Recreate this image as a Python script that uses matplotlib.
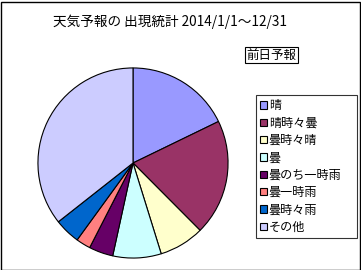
import matplotlib.pyplot as plt
from matplotlib.patches import Rectangle

plt.rcParams['font.family'] = ['Noto Sans CJK JP', 'DejaVu Sans']

# データ（日数）
labels = ['晴', '晴時々曇', '曇時々晴', '曇', '曇のち一時雨', '曇一時雨', '曇時々雨', 'その他']
days = [65, 72, 28, 30, 15, 9, 16, 130]
colors = ['#9999FF', '#993366', '#FFFFCC', '#CCFFFF', '#660066', '#FF8080', '#0066CC', '#CCCCFF']

fig = plt.figure(figsize=(3.61, 2.70), dpi=100)
fig.patch.set_facecolor('white')

# 外枠
fig.add_artist(Rectangle((0.5 / 361, 0.5 / 270), 359 / 361, 268 / 270, transform=fig.transFigure,
                         fill=False, edgecolor='black', linewidth=1))

# 円グラフ
ax = fig.add_axes([(133 - 96) / 361, (270 - 163 - 96) / 270, 192 / 361, 192 / 270])
wedges, _ = ax.pie(days, colors=colors, startangle=90, counterclock=False,
                   wedgeprops=dict(edgecolor='black', linewidth=0.8))
ax.set_xlim(-1.01, 1.01)
ax.set_ylim(-1.01, 1.01)
ax.set_aspect('equal')

# タイトル
fig.text(170 / 361, 1 - 22 / 270, '天気予報の 出現統計 2014/1/1～12/31', ha='center', va='center', fontsize=9.8)

# 前日予報
fig.text(271.5 / 361, 1 - 55 / 270, '前日予報', ha='center', va='center', fontsize=9,
         bbox=dict(boxstyle='square,pad=0.12', facecolor='white', edgecolor='black', linewidth=0.8))

# 凡例
leg = fig.legend(wedges, labels, loc='upper left', mode='expand',
                 bbox_to_anchor=(256 / 361, 1 - 238 / 270, 101 / 361, 143 / 270),
                 fontsize=8.7, frameon=True, fancybox=False, handlelength=0.55, handleheight=0.55,
                 handletextpad=0.15, labelspacing=0.36, borderpad=0.35, borderaxespad=0)
leg.get_frame().set_edgecolor('black')
leg.get_frame().set_linewidth(0.8)

plt.savefig('out.png', dpi=100)
